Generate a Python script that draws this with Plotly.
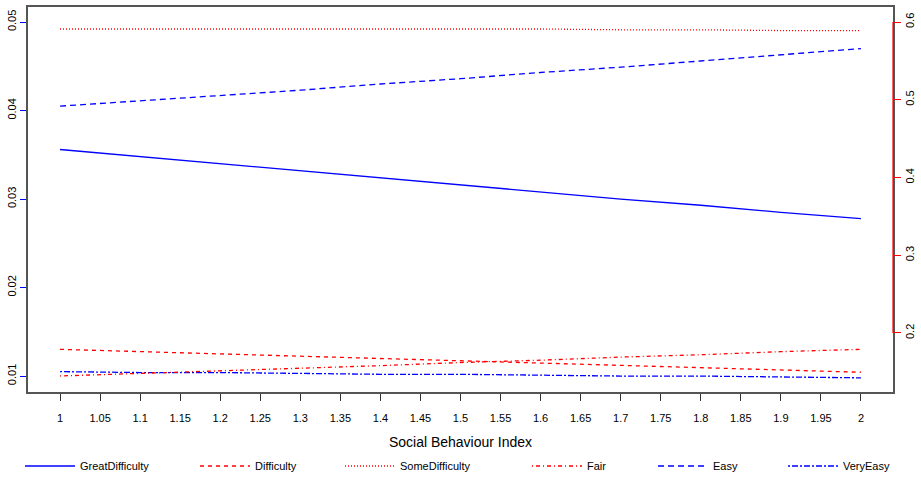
import plotly.graph_objects as go

# Predicted probabilities against the social behaviour index
x_index = [1.0, 1.1, 1.2, 1.3, 1.4, 1.5, 1.6, 1.7, 1.8, 1.9, 2.0]

great_difficulty = [0.0356, 0.0348, 0.0340, 0.0332, 0.0324, 0.0316, 0.0308, 0.0300, 0.0293, 0.0285, 0.0278]
easy = [0.0405, 0.0411, 0.0417, 0.0423, 0.0430, 0.0436, 0.0443, 0.0449, 0.0456, 0.0463, 0.0470]
very_easy = [0.0105, 0.0104, 0.0104, 0.0103, 0.0102, 0.0102, 0.0101, 0.0100, 0.0100, 0.0099, 0.0098]

difficulty = [0.179, 0.176, 0.173, 0.170, 0.167, 0.164, 0.161, 0.158, 0.155, 0.152, 0.1495]
some_difficulty = [0.591, 0.591, 0.591, 0.591, 0.591, 0.591, 0.591, 0.590, 0.590, 0.589, 0.589]
fair = [0.1447, 0.148, 0.151, 0.155, 0.158, 0.162, 0.165, 0.169, 0.172, 0.176, 0.179]

x_ticks = [1, 1.05, 1.1, 1.15, 1.2, 1.25, 1.3, 1.35, 1.4, 1.45, 1.5,
           1.55, 1.6, 1.65, 1.7, 1.75, 1.8, 1.85, 1.9, 1.95, 2]
x_tick_labels = ["1", "1.05", "1.1", "1.15", "1.2", "1.25", "1.3", "1.35", "1.4", "1.45", "1.5",
                 "1.55", "1.6", "1.65", "1.7", "1.75", "1.8", "1.85", "1.9", "1.95", "2"]
left_ticks = [0.01, 0.02, 0.03, 0.04, 0.05]
left_tick_labels = ["0.01", "0.02", "0.03", "0.04", "0.05"]
right_ticks = [0.2, 0.3, 0.4, 0.5, 0.6]
right_tick_labels = ["0.2", "0.3", "0.4", "0.5", "0.6"]

BLUE = "#0000FF"
RED = "#FF0000"
FONT = "Liberation Sans, Arial, sans-serif"

# (name, values, colour, dash, y axis, legend id, legend left edge in px)
series = [
    ("GreatDifficulty", great_difficulty, BLUE, "solid", "y", "legend", 20),
    ("Difficulty", difficulty, RED, "4px,4px", "y2", "legend2", 195),
    ("SomeDifficulty", some_difficulty, RED, "1px,2px", "y2", "legend3", 340),
    ("Fair", fair, RED, "1px,3px,4px,3px", "y2", "legend4", 527),
    ("Easy", easy, BLUE, "6px,4px", "y", "legend5", 653),
    ("VeryEasy", very_easy, BLUE, "2px,2px,6px,2px", "y", "legend6", 783),
]

PLOT_L, PLOT_R, PLOT_T, PLOT_B = 28, 893, 7, 392
W, H = 921, 479
plot_w = PLOT_R - PLOT_L
LEGEND_Y = 466

fig = go.Figure()
legends = {}
for name, vals, color, dash, yax, leg, left_px in series:
    fig.add_trace(go.Scatter(
        x=x_index, y=vals, name=name, mode="lines", yaxis=yax,
        line=dict(color=color, width=1.3, dash=dash),
        legend=leg, showlegend=True,
    ))
    legends[leg] = dict(
        x=(left_px - PLOT_L) / plot_w, xref="paper", xanchor="left",
        y=(H - LEGEND_Y) / H, yref="container", yanchor="middle",
        orientation="h", itemwidth=50, bgcolor="rgba(0,0,0,0)",
        font=dict(family=FONT, size=11, color="#000"),
    )

fig.update_layout(
    width=W, height=H,
    margin=dict(l=PLOT_L, r=W - PLOT_R, t=PLOT_T, b=H - PLOT_B, autoexpand=False),
    paper_bgcolor="white", plot_bgcolor="white",
    font=dict(family=FONT, size=11, color="#000"),
    xaxis=dict(
        range=[0.96, 2.04], tickvals=x_ticks, ticktext=x_tick_labels,
        ticks="outside", ticklen=7, tickcolor="#333", tickwidth=1,
        ticklabelstandoff=8,
        showgrid=False, zeroline=False, automargin=False,
        showline=True, linecolor="#555", linewidth=1.5, mirror=True,
        title=dict(text="Social Behaviour Index", font=dict(size=14, color="#000"), standoff=14),
        tickfont=dict(size=11),
    ),
    yaxis=dict(
        range=[0.0082, 0.0517], tickvals=left_ticks, ticktext=left_tick_labels,
        ticks="outside", ticklen=6, tickcolor=BLUE, tickwidth=1.2,
        tickangle=-90, showgrid=False, zeroline=False, automargin=False,
        showline=True, linecolor="#555", linewidth=1.5, mirror=True,
        tickfont=dict(size=11),
    ),
    yaxis2=dict(
        range=[0.1241, 0.6193], tickvals=right_ticks, ticktext=right_tick_labels,
        overlaying="y", side="right", automargin=False,
        ticks="outside", ticklen=7, tickcolor=RED, tickwidth=1.2,
        tickangle=-90, showgrid=False, zeroline=False, showline=False,
        tickfont=dict(size=11),
    ),
    **legends,
)

# Red axis line spanning the right-hand tick range
fig.add_shape(type="line", xref="paper", yref="y2",
              x0=1, x1=1, y0=min(right_ticks), y1=max(right_ticks),
              line=dict(color=RED, width=1.2))

fig.write_html("out.html")
